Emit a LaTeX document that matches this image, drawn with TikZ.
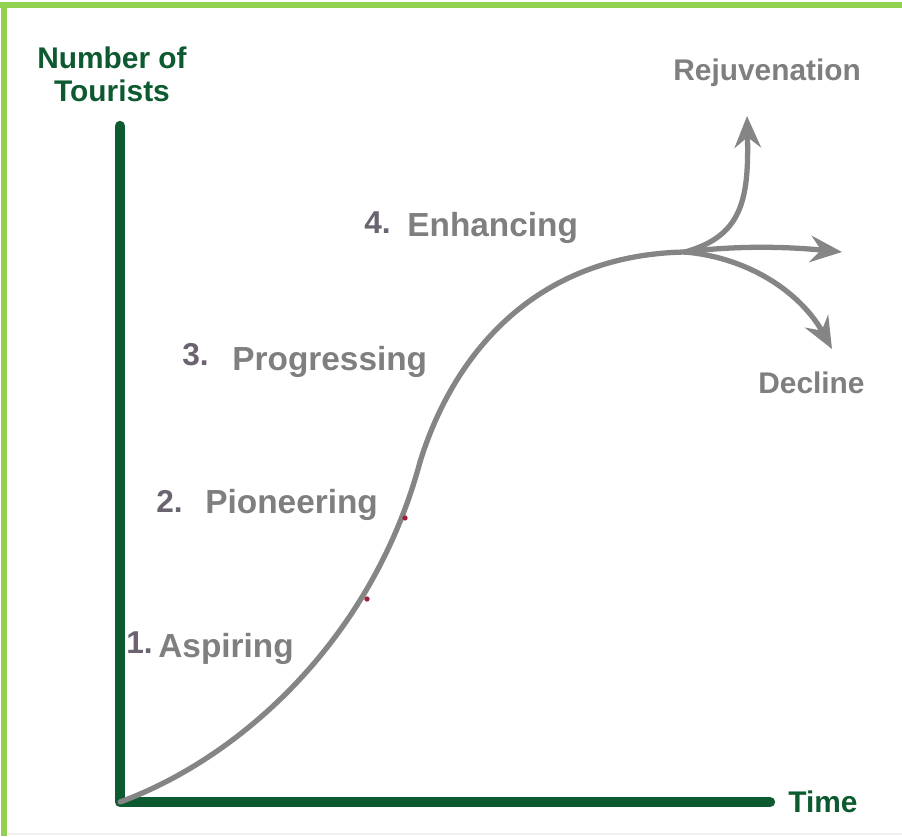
\documentclass[tikz,border=0pt]{standalone}
\usepackage{fontspec}
\setmainfont{Liberation Sans}
\usetikzlibrary{arrows.meta}

\definecolor{axisgreen}{HTML}{0E5A30}
\definecolor{framegreen}{HTML}{92D050}
\definecolor{curvegray}{HTML}{858585}
\definecolor{wordgray}{HTML}{7F7F7F}
\definecolor{numgray}{HTML}{6B6470}
\definecolor{markred}{HTML}{A0203A}

\begin{document}
\begin{tikzpicture}[x=0.02cm, y=-0.02cm,
        axis/.style = {draw=axisgreen, line width=5.9pt, line cap=round, line join=round},
        curve/.style = {draw=curvegray, line width=3pt, line cap=round},
        branch/.style = {curve, -{Stealth[length=18pt, width=15pt, inset=6pt]}},
        axislabel/.style = {font=\bfseries\fontsize{17}{19}\selectfont, text=axisgreen, inner sep=0, align=center},
        num/.style = {font=\bfseries\fontsize{18}{21}\selectfont, text=numgray, inner sep=0, anchor=base west},
        stage/.style = {font=\bfseries\fontsize{19}{22}\selectfont, text=wordgray, inner sep=0, anchor=base west},
        outcome/.style = {font=\bfseries\fontsize{17}{20}\selectfont, text=wordgray, inner sep=0, anchor=base west} ]
        \useasboundingbox (0,0) rectangle (902,836);
        \fill[white] (0,0) rectangle (902,836);

        % frame
        \draw[framegreen, line width=3pt] (0,5) -- (902,5);
        \draw[framegreen, line width=3pt] (4,3) -- (4,836);
        \draw[black!6, line width=0.6pt] (8,834) -- (902,834);

        % axes
        \coordinate (o) at (120,802);
        \coordinate (ytop) at (120,126);
        \coordinate (xend) at (770,802);
        \path[axis] (ytop) -- (o) -- (xend);
        \node at (112,46) [axislabel, anchor=north] (ylabel) {Number of\\Tourists};
        \node at (788,812) [axislabel, anchor=base west] (xlabel) {Time};

        % growth curve and the three outcomes
        \coordinate (b) at (685,252);
        \coordinate (up) at (747,116);
        \coordinate (ahead) at (842,252);
        \coordinate (down) at (832,349);
        \path[curve] (o) .. controls (240,758) and (372,640) .. (420,462)
                         .. controls (452,358) and (532,255) .. (b);
        \path[branch] (b) .. controls (742,236) and (749,200) .. (up);
        \path[branch] (b) .. controls (740,245) and (790,247) .. (ahead);
        \path[branch] (b) .. controls (752,258) and (802,295) .. (down);
        \fill[markred] (367,599) circle (1.5pt);
        \fill[markred] (405,518) circle (1.5pt);

        % stages
        \node at (126,653) [num] (n1) {1.};
        \node at (158,657) [stage] (s1) {Aspiring};
        \node at (156,512) [num] (n2) {2.};
        \node at (205,513) [stage] (s2) {Pioneering};
        \node at (182,365) [num] (n3) {3.};
        \node at (232,370) [stage] (s3) {Progressing};
        \node at (364,233) [num] (n4) {4.};
        \node at (407,236) [stage] (s4) {Enhancing};

        \node at (673,80) [outcome] (rej) {Rejuvenation};
        \node at (758,393) [outcome] (dec) {Decline};

    \end{tikzpicture}
\end{document}
